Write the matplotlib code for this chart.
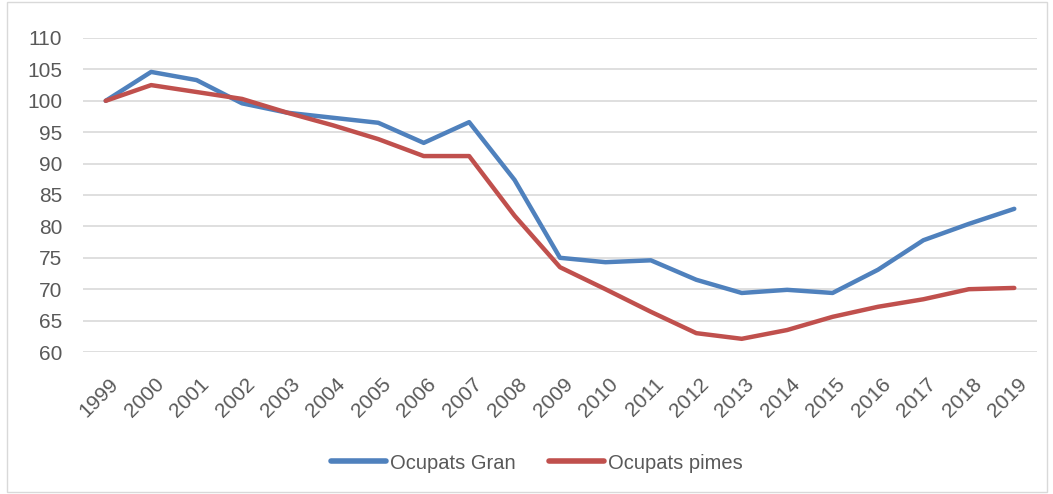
import matplotlib
matplotlib.use('Agg')
import matplotlib.pyplot as plt
import matplotlib.transforms as mtransforms
import numpy as np
from matplotlib.patches import Rectangle

plt.rcParams['font.family'] = ['Liberation Sans', 'DejaVu Sans']

years = ['1999', '2000', '2001', '2002', '2003', '2004', '2005', '2006', '2007', '2008',
         '2009', '2010', '2011', '2012', '2013', '2014', '2015', '2016', '2017', '2018', '2019']
gran = [100, 104.6, 103.3, 99.6, 98.1, 97.3, 96.5, 93.3, 96.6, 87.4,
        75.0, 74.3, 74.6, 71.5, 69.4, 69.9, 69.4, 73.1, 77.8, 80.4, 82.8]
pimes = [100, 102.5, 101.4, 100.3, 98.1, 96.1, 93.9, 91.2, 91.2, 81.7,
         73.5, 70.0, 66.4, 63.0, 62.1, 63.5, 65.6, 67.2, 68.4, 70.0, 70.2]

fig = plt.figure(figsize=(10.53, 4.94), dpi=100)
ax = fig.add_axes([83 / 1053, 1 - 352 / 494, 954 / 1053, 314 / 494])

x = np.arange(len(years))
ax.plot(x, gran, color='#4F81BD', lw=3.2, label='Ocupats Gran', solid_capstyle='round', solid_joinstyle='round')
ax.plot(x, pimes, color='#C0504D', lw=3.2, label='Ocupats pimes', solid_capstyle='round', solid_joinstyle='round')

ax.set_ylim(60, 110)
ax.set_yticks(np.arange(60, 111, 5))
ax.set_xlim(-0.5, 20.5)
ax.set_xticks(x)
ax.set_xticklabels(years, rotation=45, ha='right', rotation_mode='anchor')
ax.grid(axis='y', color='#D9D9D9', lw=1.2)
ax.set_axisbelow(True)
for s in ax.spines.values():
    s.set_visible(False)
ax.tick_params(length=0, labelsize=15, colors='#595959')
ax.tick_params(axis='x', pad=16)
ax.tick_params(axis='y', pad=15)
off = mtransforms.ScaledTranslation(3 / 100, 0, fig.dpi_scale_trans)
for lab in ax.get_xticklabels():
    lab.set_transform(lab.get_transform() + off)

leg = ax.legend(loc='center', bbox_to_anchor=(0.51, 1 - 463 / 494), bbox_transform=fig.transFigure,
                ncol=2, frameon=False, fontsize=14.5, labelcolor='#595959',
                handlelength=2.75, handletextpad=0.2, columnspacing=1.65)
for h in leg.get_lines():
    h.set_linewidth(4)

fig.patches.append(Rectangle((7 / 1053, 2 / 494), 1040 / 1053, 490 / 494, transform=fig.transFigure,
                             fill=False, edgecolor='#D9D9D9', lw=1))

fig.savefig('out.png', dpi=100)
